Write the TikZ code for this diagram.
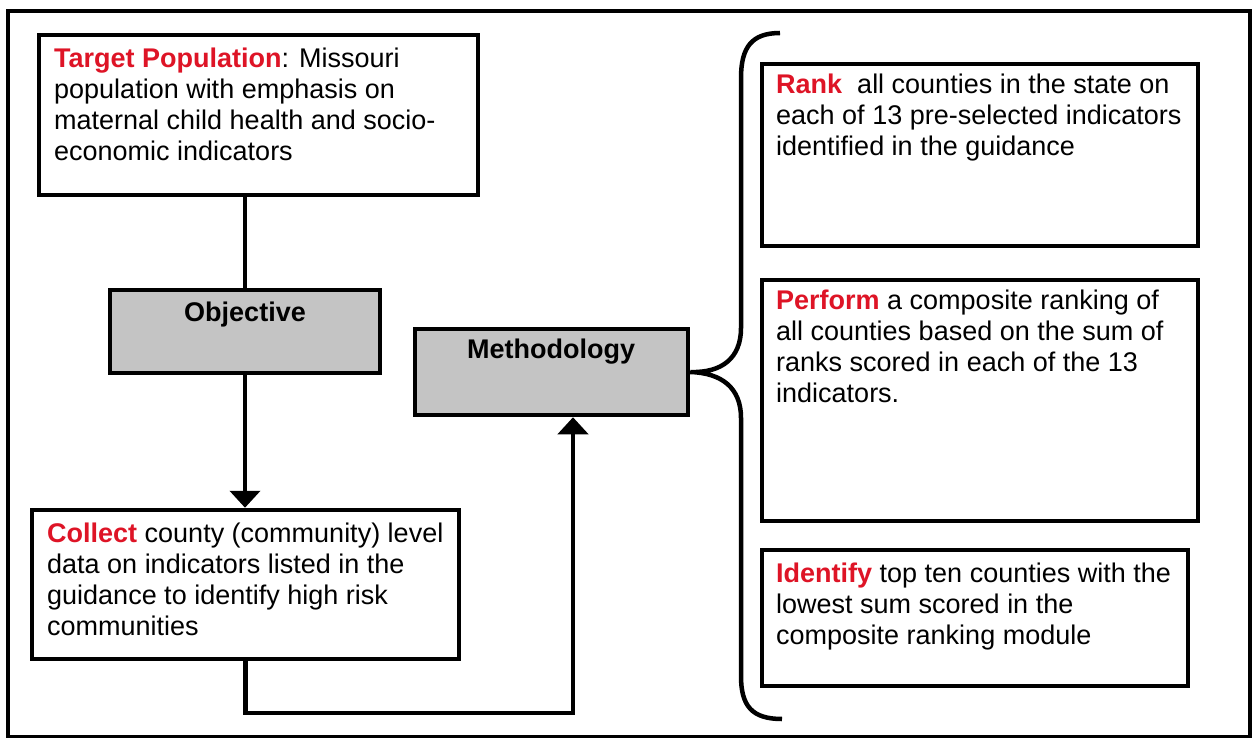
\documentclass[tikz,border=0pt]{standalone}
\usepackage{fontspec}
\setmainfont{Liberation Sans}
\usetikzlibrary{arrows.meta}
\definecolor{hred}{RGB}{222,20,38}
\definecolor{boxgray}{RGB}{196,196,196}
\newcommand{\hd}[1]{\textcolor{hred}{\bfseries #1}}
\begin{document}
\begin{tikzpicture}[x=1pt,y=-1pt,
  box/.style={draw, line width=4.5pt, fill=white, inner sep=0pt},
  graybox/.style={box, fill=boxgray},
  txt/.style={anchor=north west, inner sep=0pt, align=left, font=\fontsize{27}{31}\selectfont},
  lbl/.style={anchor=base, inner sep=0pt, font=\fontsize{27}{31}\selectfont\bfseries},
  conn/.style={line width=4.5pt},
  arr/.style={line width=4.5pt, -{Triangle[width=30pt,length=17pt]}}]
\useasboundingbox (0,0) rectangle (1252,738);
\draw[line width=3.5pt] (8,11) rectangle (1250,737);
% boxes
\node[box, minimum width=439pt, minimum height=160pt] (target) at (258.5,115) {};
\node[graybox, minimum width=270pt, minimum height=83pt] (objective) at (245,331.5) {};
\node[box, minimum width=427pt, minimum height=149pt] (collect) at (245.5,584.5) {};
\node[graybox, minimum width=273pt, minimum height=86pt] (method) at (551.5,372) {};
\node[box, minimum width=436pt, minimum height=182pt] (rank) at (980,155) {};
\node[box, minimum width=436pt, minimum height=241pt] (perform) at (980,400.5) {};
\node[box, minimum width=426pt, minimum height=136pt] (identify) at (975,618) {};
% texts
\node[txt] (ttarget) at (54,47.5) {\hd{Target Population}: Missouri\\population with emphasis on\\maternal child health and socio-\\economic indicators};
\node[lbl] (tobj) at (245,321) {Objective};
\node[txt] (tcollect) at (47,522.5) {\hd{Collect} county (community) level\\data on indicators listed in the\\guidance to identify high risk\\communities};
\node[lbl] (tmeth) at (551,358) {Methodology};
\node[txt] (trank) at (776,73.5) {\hd{Rank}\ \ all counties in the state on\\each of 13 pre-selected indicators\\identified in the guidance};
\node[txt] (tperf) at (776,289.5) {\hd{Perform} a composite ranking of\\all counties based on the sum of\\ranks scored in each of the 13\\indicators.};
\node[txt] (tiden) at (776,562.5) {\hd{Identify} top ten counties with the\\lowest sum scored in the\\composite ranking module};
% connectors
\draw[conn] (objective.north |- target.south) -- (objective.north);
\draw[arr] (objective.south) -- (collect.north -| objective.south);
\coordinate (bend) at (573,713);
\draw[arr] (collect.south) |- (bend) -- ([xshift=21.5pt]method.south);
% brace
\draw[line width=4.5pt] (780,33) .. controls (752,33) and (741,47) .. (741,78)
  -- (741,328) .. controls (741,358) and (722,373) .. (method.east)
  .. controls (722,373) and (741,388) .. (741,418)
  -- (741,676) .. controls (741,706) and (752,719) .. (782,719);
\end{tikzpicture}
\end{document}
